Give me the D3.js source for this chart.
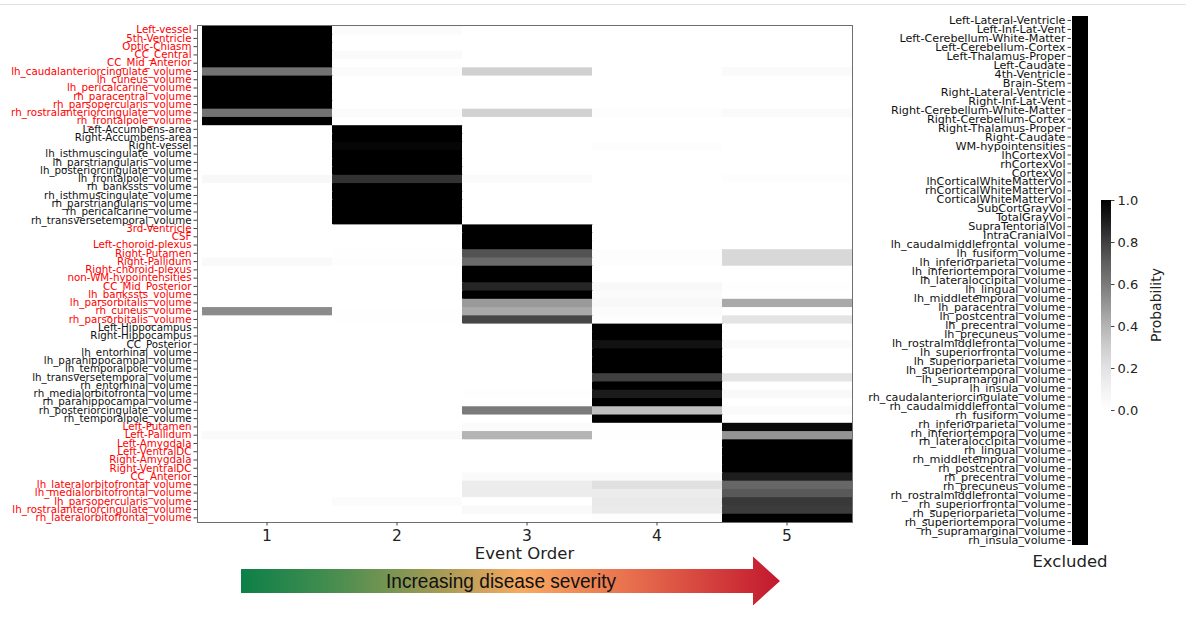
<!DOCTYPE html>
<html>
<head>
<meta charset="utf-8">
<script src="https://cdn.jsdelivr.net/npm/d3@7"></script>
<style>
  body { margin: 0; background: #fff; }
  svg { display: block; font-family: "DejaVu Sans", sans-serif; }
</style>
</head>
<body>
<div id="chart"></div>
<script>
// ---- data ----
var eventOrder = [1, 2, 3, 4, 5];

var biomarkers = [
  "Left-vessel", "5th-Ventricle", "Optic-Chiasm", "CC_Central", "CC_Mid_Anterior",
  "lh_caudalanteriorcingulate_volume", "lh_cuneus_volume", "lh_pericalcarine_volume",
  "rh_paracentral_volume", "rh_parsopercularis_volume", "rh_rostralanteriorcingulate_volume",
  "rh_frontalpole_volume",
  "Left-Accumbens-area", "Right-Accumbens-area", "Right-vessel", "lh_isthmuscingulate_volume",
  "lh_parstriangularis_volume", "lh_posteriorcingulate_volume", "lh_frontalpole_volume",
  "rh_bankssts_volume", "rh_isthmuscingulate_volume", "rh_parstriangularis_volume",
  "rh_pericalcarine_volume", "rh_transversetemporal_volume",
  "3rd-Ventricle", "CSF", "Left-choroid-plexus", "Right-Putamen", "Right-Pallidum",
  "Right-choroid-plexus", "non-WM-hypointensities", "CC_Mid_Posterior", "lh_bankssts_volume",
  "lh_parsorbitalis_volume", "rh_cuneus_volume", "rh_parsorbitalis_volume",
  "Left-Hippocampus", "Right-Hippocampus", "CC_Posterior", "lh_entorhinal_volume",
  "lh_parahippocampal_volume", "lh_temporalpole_volume", "lh_transversetemporal_volume",
  "rh_entorhinal_volume", "rh_medialorbitofrontal_volume", "rh_parahippocampal_volume",
  "rh_posteriorcingulate_volume", "rh_temporalpole_volume",
  "Left-Putamen", "Left-Pallidum", "Left-Amygdala", "Left-VentralDC", "Right-Amygdala",
  "Right-VentralDC", "CC_Anterior", "lh_lateralorbitofrontal_volume",
  "lh_medialorbitofrontal_volume", "lh_parsopercularis_volume",
  "lh_rostralanteriorcingulate_volume", "rh_lateralorbitofrontal_volume"
];

// stage each biomarker is assigned to (label colour alternates by stage)
var stageOf = [
  1,1,1,1,1,1,1,1,1,1,1,1,
  2,2,2,2,2,2,2,2,2,2,2,2,
  3,3,3,3,3,3,3,3,3,3,3,3,
  4,4,4,4,4,4,4,4,4,4,4,4,
  5,5,5,5,5,5,5,5,5,5,5,5
];

// probability of each biomarker at event order 1..5
var probability = [
  [1, 0.03, 0, 0, 0],
  [1, 0, 0, 0, 0],
  [1, 0, 0, 0, 0],
  [1, 0.04, 0, 0, 0],
  [1, 0, 0, 0, 0],
  [0.63, 0.03, 0.29, 0, 0.04],
  [1, 0, 0, 0, 0],
  [1, 0, 0, 0, 0],
  [1, 0, 0, 0, 0],
  [1, 0, 0, 0, 0],
  [0.63, 0.03, 0.28, 0.02, 0.04],
  [1, 0, 0, 0, 0],

  [0, 1, 0, 0, 0],
  [0, 1, 0, 0, 0],
  [0, 0.98, 0, 0.02, 0],
  [0, 1, 0, 0, 0],
  [0, 1, 0, 0, 0],
  [0, 1, 0, 0, 0],
  [0.06, 0.84, 0.04, 0, 0.02],
  [0, 1, 0, 0, 0],
  [0, 1, 0, 0, 0],
  [0, 1, 0, 0, 0],
  [0, 1, 0, 0, 0],
  [0, 1, 0, 0, 0],

  [0, 0, 1, 0, 0],
  [0, 0, 1, 0, 0],
  [0, 0, 1, 0, 0],
  [0, 0.01, 0.74, 0.02, 0.25],
  [0.05, 0.02, 0.66, 0.02, 0.25],
  [0, 0, 1, 0, 0],
  [0, 0, 1, 0, 0],
  [0, 0, 0.88, 0.06, 0.01],
  [0, 0, 1, 0.03, 0],
  [0, 0, 0.49, 0.06, 0.44],
  [0.54, 0.01, 0.44, 0.03, 0],
  [0, 0.01, 0.78, 0.02, 0.19],

  [0, 0, 0, 1, 0],
  [0, 0, 0, 1, 0],
  [0, 0, 0, 0.94, 0.04],
  [0, 0, 0, 1, 0],
  [0, 0, 0, 1, 0],
  [0, 0, 0, 1, 0],
  [0, 0, 0, 0.8, 0.19],
  [0, 0, 0, 1, 0],
  [0, 0, 0.01, 0.91, 0.05],
  [0, 0, 0, 1, 0],
  [0, 0, 0.6, 0.36, 0.04],
  [0, 0, 0, 1, 0],

  [0, 0, 0.03, 0.01, 0.97],
  [0.04, 0.04, 0.4, 0.01, 0.51],
  [0, 0, 0, 0, 1],
  [0, 0, 0, 0, 1],
  [0, 0, 0, 0, 1],
  [0, 0, 0, 0, 1],
  [0, 0, 0.04, 0.04, 0.9],
  [0, 0, 0.14, 0.21, 0.67],
  [0, 0, 0.14, 0.14, 0.72],
  [0, 0.03, 0, 0.16, 0.82],
  [0, 0, 0.05, 0.15, 0.81],
  [0, 0, 0, 0.02, 1]
];

var excluded = [
  "Left-Lateral-Ventricle", "Left-Inf-Lat-Vent", "Left-Cerebellum-White-Matter",
  "Left-Cerebellum-Cortex", "Left-Thalamus-Proper", "Left-Caudate", "4th-Ventricle",
  "Brain-Stem", "Right-Lateral-Ventricle", "Right-Inf-Lat-Vent",
  "Right-Cerebellum-White-Matter", "Right-Cerebellum-Cortex", "Right-Thalamus-Proper",
  "Right-Caudate", "WM-hypointensities", "lhCortexVol", "rhCortexVol", "CortexVol",
  "lhCorticalWhiteMatterVol", "rhCorticalWhiteMatterVol", "CorticalWhiteMatterVol",
  "SubCortGrayVol", "TotalGrayVol", "SupraTentorialVol", "IntraCranialVol",
  "lh_caudalmiddlefrontal_volume", "lh_fusiform_volume", "lh_inferiorparietal_volume",
  "lh_inferiortemporal_volume", "lh_lateraloccipital_volume", "lh_lingual_volume",
  "lh_middletemporal_volume", "lh_paracentral_volume", "lh_postcentral_volume",
  "lh_precentral_volume", "lh_precuneus_volume", "lh_rostralmiddlefrontal_volume",
  "lh_superiorfrontal_volume", "lh_superiorparietal_volume", "lh_superiortemporal_volume",
  "lh_supramarginal_volume", "lh_insula_volume",
  "rh_caudalanteriorcingulate_volume", "rh_caudalmiddlefrontal_volume", "rh_fusiform_volume",
  "rh_inferiorparietal_volume", "rh_inferiortemporal_volume", "rh_lateraloccipital_volume",
  "rh_lingual_volume", "rh_middletemporal_volume", "rh_postcentral_volume",
  "rh_precentral_volume", "rh_precuneus_volume", "rh_rostralmiddlefrontal_volume",
  "rh_superiorfrontal_volume", "rh_superiorparietal_volume", "rh_superiortemporal_volume",
  "rh_supramarginal_volume", "rh_insula_volume"
];

var cbarTicks = [0, 0.2, 0.4, 0.6, 0.8, 1.0];

// ---- setting up ----
var W = 1186, H = 627;
var svg = d3.select("#chart").append("svg")
    .attr("width", W)
    .attr("height", H);

// thin line along the top of the page
svg.append("line")
    .attr("x1", 0).attr("x2", W).attr("y1", 4.5).attr("y2", 4.5)
    .attr("stroke", "#e2e2e2").attr("stroke-width", 1);

var color = d3.scaleSequential(d3.interpolateGreys).domain([0, 1]);

// main heatmap
var frame = {left: 197, right: 852, top: 26, bottom: 522};
var x = d3.scaleBand().domain(eventOrder).range([202, frame.right]);
var y = d3.scaleBand().domain(biomarkers).range([frame.top, frame.bottom]);

var cells = [];
probability.forEach(function(row, i) {
  row.forEach(function(p, j) {
    cells.push({name: biomarkers[i], order: eventOrder[j], p: p, last: i === probability.length - 1});
  });
});

var g1 = svg.append("g").attr("id", "heatmap");
g1.selectAll("rect.cell").data(cells).enter()
  .append("rect")
    .attr("class", "cell")
    .attr("x", function(d) { return x(d.order); })
    .attr("y", function(d) { return y(d.name); })
    .attr("width", function(d) { return x.bandwidth() + (d.order < 5 ? 1 : 0); })
    .attr("height", function(d) { return y.bandwidth() + (d.last ? 0 : 1); })
    .attr("fill", function(d) { return color(d.p); });

g1.append("rect")
    .attr("x", frame.left + 0.5).attr("y", frame.top - 0.5)
    .attr("width", frame.right - frame.left).attr("height", frame.bottom - frame.top + 1)
    .attr("fill", "none").attr("stroke", "#6e6e6e").attr("stroke-width", 1);

// y axis (biomarkers)
var yAxis = d3.axisLeft(y).tickSize(3.5).tickPadding(2);
var yAxisGroup = svg.append("g")
    .attr("transform", "translate(" + (frame.left) + ",0)")
    .call(yAxis);
yAxisGroup.select(".domain").remove();
yAxisGroup.selectAll(".tick line").attr("stroke", "#444");
yAxisGroup.selectAll(".tick text")
    .attr("font-size", "10.3px")
    .attr("font-family", "DejaVu Sans")
    .attr("fill", function(d) { return stageOf[biomarkers.indexOf(d)] % 2 === 1 ? "#ff0000" : "#111"; });

// x axis (event order)
var xAxis = d3.axisBottom(x).tickSize(3.5).tickPadding(4);
var xAxisGroup = svg.append("g")
    .attr("transform", "translate(0," + frame.bottom + ")")
    .call(xAxis);
xAxisGroup.select(".domain").remove();
xAxisGroup.selectAll(".tick line").attr("stroke", "#444");
xAxisGroup.selectAll(".tick text")
    .attr("font-size", "15.5px")
    .attr("font-family", "DejaVu Sans")
    .attr("fill", "#222");

svg.append("text")
    .attr("x", (frame.left + frame.right) / 2)
    .attr("y", 559)
    .attr("text-anchor", "middle")
    .attr("font-size", "16.5px")
    .attr("fill", "#222")
    .text("Event Order");

// disease severity arrow
var defs = svg.append("defs");
var grad = defs.append("linearGradient")
    .attr("id", "severity")
    .attr("x1", "0%").attr("x2", "100%").attr("y1", "0%").attr("y2", "0%");
[["0%", "#0c8048"], ["18%", "#4a8e50"], ["36%", "#a09a55"], ["52%", "#f7aa62"],
 ["72%", "#e8704e"], ["100%", "#c2182e"]].forEach(function(s) {
  grad.append("stop").attr("offset", s[0]).attr("stop-color", s[1]);
});

var ax0 = 241, ax1 = 753, tip = 780, ay = 581, bodyH = 12, headH = 24.5;
svg.append("path")
    .attr("d", d3.line()([
      [ax0, ay - bodyH], [ax1, ay - bodyH], [ax1, ay - headH], [tip, ay],
      [ax1, ay + headH], [ax1, ay + bodyH], [ax0, ay + bodyH]
    ]) + "Z")
    .attr("fill", "url(#severity)");

svg.append("text")
    .attr("x", 501)
    .attr("y", 588)
    .attr("text-anchor", "middle")
    .attr("font-family", "'Liberation Sans Narrow', 'Liberation Sans', Arial, sans-serif")
    .attr("font-size", "20.5px")
    .attr("textLength", 230)
    .attr("lengthAdjust", "spacingAndGlyphs")
    .attr("fill", "#111")
    .text("Increasing disease severity");

// excluded biomarkers column
var yEx = d3.scaleBand().domain(excluded).range([16, 545]);
var exX = 1072, exW = 16;
svg.append("rect")
    .attr("x", exX).attr("y", yEx.range()[0])
    .attr("width", exW).attr("height", yEx.range()[1] - yEx.range()[0])
    .attr("fill", color(1));

var exAxisGroup = svg.append("g")
    .attr("transform", "translate(" + (exX - 1) + ",0)")
    .call(d3.axisLeft(yEx).tickSize(3.5).tickPadding(2));
exAxisGroup.select(".domain").remove();
exAxisGroup.selectAll(".tick line").attr("stroke", "#444");
exAxisGroup.selectAll(".tick text")
    .attr("font-size", "11.2px")
    .attr("font-family", "DejaVu Sans")
    .attr("fill", "#111");

svg.append("text")
    .attr("x", 1070)
    .attr("y", 567)
    .attr("text-anchor", "middle")
    .attr("font-size", "16.5px")
    .attr("fill", "#222")
    .text("Excluded");

// colorbar
var cb = {x: 1101, w: 10, top: 200, bottom: 410};
var cbY = d3.scaleLinear().domain([0, 1]).range([cb.bottom, cb.top]);
var cbGrad = defs.append("linearGradient")
    .attr("id", "cbar")
    .attr("x1", "0%").attr("x2", "0%").attr("y1", "100%").attr("y2", "0%");
d3.range(0, 1.0001, 0.1).forEach(function(t) {
  cbGrad.append("stop").attr("offset", (t * 100) + "%").attr("stop-color", color(t));
});
svg.append("rect")
    .attr("x", cb.x).attr("y", cb.top)
    .attr("width", cb.w).attr("height", cb.bottom - cb.top)
    .attr("fill", "url(#cbar)");

var cbAxis = svg.append("g")
    .attr("transform", "translate(" + (cb.x + cb.w) + ",0)")
    .call(d3.axisRight(cbY).tickValues(cbarTicks).tickFormat(d3.format(".1f")).tickSize(3.5).tickPadding(3));
cbAxis.select(".domain").remove();
cbAxis.selectAll(".tick line").attr("stroke", "#444");
cbAxis.selectAll(".tick text")
    .attr("font-size", "13px")
    .attr("font-family", "DejaVu Sans")
    .attr("fill", "#222");

svg.append("text")
    .attr("transform", "translate(1161," + ((cb.top + cb.bottom) / 2) + ") rotate(-90)")
    .attr("text-anchor", "middle")
    .attr("font-size", "14px")
    .attr("fill", "#222")
    .text("Probability");
</script>
</body>
</html>
